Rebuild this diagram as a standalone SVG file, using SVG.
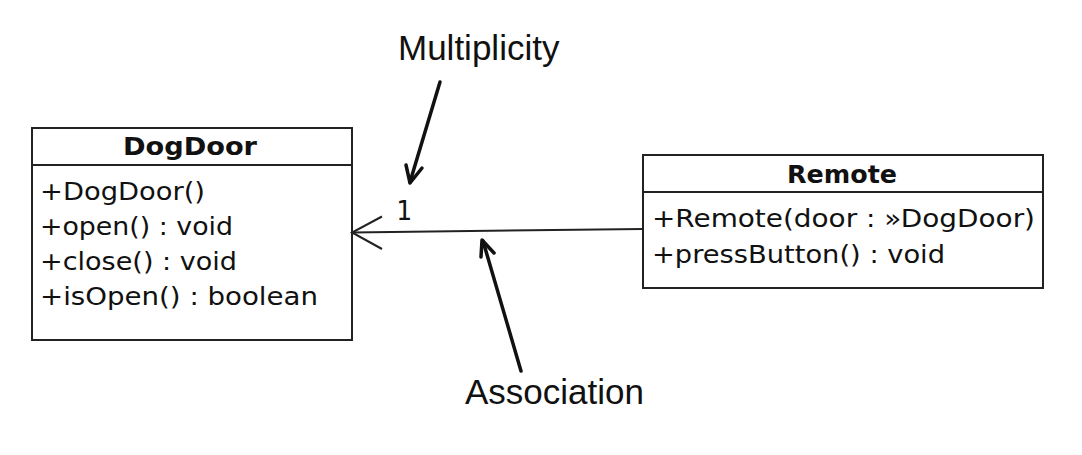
<svg xmlns="http://www.w3.org/2000/svg" width="1082" height="455" viewBox="0 0 1082 455">
<style>
.box{fill:#fff;stroke:#222;stroke-width:2}
.div{stroke:#222;stroke-width:2}
.title{font-family:"DejaVu Sans",sans-serif;font-weight:bold;font-size:24px;fill:#111;text-anchor:middle}
.op{font-family:"DejaVu Sans",sans-serif;font-size:25.5px;fill:#111}
.note{font-family:"Liberation Sans",Arial,sans-serif;font-size:35px;fill:#111}
.conn{fill:none;stroke:#222;stroke-width:2}
.callout{fill:none;stroke:#111;stroke-width:3.5;stroke-linecap:round;stroke-linejoin:round}
</style>
<rect width="1082" height="455" fill="#fff"/>
<g id="DogDoor">
<rect class="box" x="32" y="128" width="320" height="212"/>
<line class="div" x1="32" y1="165" x2="352" y2="165"/>
<text class="title" x="190" y="155" textLength="134" lengthAdjust="spacingAndGlyphs">DogDoor</text>
<text class="op" x="40" y="200" textLength="165" lengthAdjust="spacingAndGlyphs">+DogDoor()</text>
<text class="op" x="40" y="235" textLength="193" lengthAdjust="spacingAndGlyphs">+open() : void</text>
<text class="op" x="40" y="270" textLength="197" lengthAdjust="spacingAndGlyphs">+close() : void</text>
<text class="op" x="40" y="305" textLength="278" lengthAdjust="spacingAndGlyphs">+isOpen() : boolean</text>
</g>
<g id="Remote">
<rect class="box" x="643" y="155" width="400" height="133"/>
<line class="div" x1="643" y1="192" x2="1043" y2="192"/>
<text class="title" x="842" y="183" textLength="110" lengthAdjust="spacingAndGlyphs">Remote</text>
<text class="op" x="652" y="227" textLength="383" lengthAdjust="spacingAndGlyphs">+Remote(door : »DogDoor)</text>
<text class="op" x="652" y="263" textLength="293" lengthAdjust="spacingAndGlyphs">+pressButton() : void</text>
</g>
<g id="connectors">
<line class="conn" x1="643" y1="229" x2="352" y2="232.5"/>
<polyline class="conn" points="382,216.5 352,232.5 382,249"/>
<text x="396" y="220" font-family="DejaVu Sans Mono,monospace" font-size="26" fill="#111">1</text>
</g>
<g id="multiplicity-note">
<text class="note" x="398" y="60">Multiplicity</text>
<line class="callout" x1="440" y1="82" x2="410" y2="182"/>
<polyline class="callout" points="406,165 410,183 422,168"/>
</g>
<g id="association-note">
<text class="note" x="465" y="404">Association</text>
<line class="callout" x1="521" y1="371" x2="483" y2="241"/>
<polyline class="callout" points="481,257 482,240 494,253"/>
</g>
</svg>
